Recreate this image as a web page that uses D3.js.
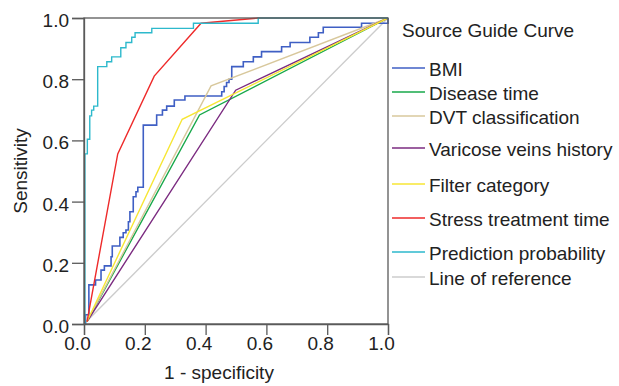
<!DOCTYPE html>
<html>
<head>
<meta charset="utf-8">
<script src="https://cdn.jsdelivr.net/npm/d3@7"></script>
<style>
  body { margin: 0; background: #fff; }
  text { font-family: "Liberation Sans", Arial, sans-serif; fill: #222; }
</style>
</head>
<body>
<div id="chart"></div>
<script>
// ROC curves, [1 - specificity, sensitivity]
const bmi = [[0,0],[0.005,0.03],[0.016,0.128],[0.038,0.144],[0.056,0.176],[0.067,0.19],[0.089,0.22],[0.093,0.255],
  [0.118,0.283],[0.129,0.298],[0.138,0.307],[0.146,0.334],[0.151,0.367],[0.162,0.416],[0.171,0.432],[0.177,0.447],
  [0.195,0.65],[0.239,0.683],[0.258,0.699],[0.272,0.712],[0.297,0.732],[0.332,0.745],[0.453,0.759],[0.461,0.776],
  [0.469,0.789],[0.477,0.8],[0.486,0.841],[0.524,0.857],[0.557,0.873],[0.584,0.89],[0.65,0.906],[0.678,0.92],
  [0.743,0.937],[0.771,0.952],[0.787,0.97],[0.913,0.983],[1,1]];
const diseaseTime = [[0.01,0.008],[0.38,0.683],[1,1]];
const dvtClass = [[0.01,0.008],[0.418,0.778],[1,1]];
const varicose = [[0.01,0.008],[0.499,0.764],[1,1]];
const filterCat = [[0.01,0.008],[0.323,0.669],[1,1]];
const stressTime = [[0.01,0.008],[0.111,0.556],[0.231,0.81],[0.385,0.983],[0.573,1],[1,1]];
const predProb = [[0,0],[0.003,0.556],[0.011,0.604],[0.019,0.68],[0.025,0.699],[0.032,0.712],[0.045,0.841],
  [0.075,0.857],[0.091,0.873],[0.121,0.903],[0.138,0.92],[0.157,0.937],[0.168,0.952],[0.223,0.966],
  [0.36,0.983],[0.573,1],[1,1]];
const reference = [[0,0],[1,1]];

const seriesNames = ['BMI','Disease time','DVT classification','Varicose veins history',
  'Filter category','Stress treatment time','Prediction probability','Line of reference'];
const seriesData = [bmi, diseaseTime, dvtClass, varicose, filterCat, stressTime, predProb, reference];
const seriesColors = ['#3f5fc4','#17a84a','#d8c89c','#7b2b80','#f7e634','#ee2a2a','#2db9cc','#cccccc'];
const stepped = [true,false,false,false,false,false,true,false];
const tickValues = [0, 0.2, 0.4, 0.6, 0.8, 1.0];

// legend row positions (irregular, as in the original)
const legendRowY = [68, 92, 116, 148, 184, 218, 252, 277];

const width = 619, height = 386;
const margin = { top: 18, right: 231, bottom: 62, left: 84 };

const svg = d3.select('#chart').append('svg')
  .attr('width', width).attr('height', height);

const x = d3.scaleLinear().domain([0,1]).range([margin.left, width - margin.right]);
const y = d3.scaleLinear().domain([0,1]).range([height - margin.bottom, margin.top]);

const frame = '#5a5a5a';

// curves (reference drawn first, underneath)
const order = [7,0,1,2,3,4,5,6];
svg.append('g').selectAll('path')
  .data(order)
  .join('path')
    .attr('fill','none')
    .attr('stroke', i => seriesColors[i])
    .attr('stroke-width', i => i === 0 ? 1.6 : 1.4)
    .attr('d', i => d3.line()
        .x(d => x(d[0])).y(d => y(d[1]))
        .curve(stepped[i] ? d3.curveStepAfter : d3.curveLinear)(seriesData[i]));

// frame
svg.append('rect')
  .attr('x', x(0)).attr('y', y(1))
  .attr('width', x(1) - x(0)).attr('height', y(0) - y(1))
  .attr('fill','none').attr('stroke', frame).attr('stroke-width', 1.3);

// axes
const xAxis = svg.append('g')
  .attr('transform', `translate(0,${y(0)})`)
  .call(d3.axisBottom(x).tickValues(tickValues).tickFormat(d3.format('.1f')).tickSize(11).tickPadding(2));
const yAxis = svg.append('g')
  .attr('transform', `translate(${x(0)},0)`)
  .call(d3.axisLeft(y).tickValues(tickValues).tickFormat(d3.format('.1f')).tickSize(12).tickPadding(3));

[xAxis, yAxis].forEach(a => {
  a.select('.domain').attr('stroke', frame).attr('stroke-width', 1.3);
  a.selectAll('.tick line').attr('stroke', frame).attr('stroke-width', 1.3);
  a.selectAll('.tick text').attr('font-size', 19).attr('fill', '#222')
    .style('font-family', '"Liberation Sans", Arial, sans-serif');
});
xAxis.selectAll('.tick text').attr('dx', -7);
yAxis.selectAll('.tick text').attr('dy', '0.45em');

// axis titles
svg.append('text')
  .attr('x', 219).attr('y', 379)
  .attr('text-anchor','middle').attr('font-size', 19)
  .text('1 - specificity');
svg.append('text')
  .attr('transform', `translate(27,${171}) rotate(-90)`)
  .attr('text-anchor','middle').attr('font-size', 19)
  .text('Sensitivity');

// legend
svg.append('text')
  .attr('x', 402).attr('y', 37).attr('font-size', 19)
  .text('Source Guide Curve');

const legend = svg.append('g').selectAll('g')
  .data(seriesNames)
  .join('g')
    .attr('transform', (d,i) => `translate(392,${legendRowY[i]})`);
legend.append('line')
  .attr('x1', 0).attr('x2', 33)
  .attr('stroke', (d,i) => seriesColors[i]).attr('stroke-width', 1.6);
legend.append('text')
  .attr('x', 37).attr('y', 7.5).attr('font-size', 19)
  .text(d => d);
</script>
</body>
</html>
